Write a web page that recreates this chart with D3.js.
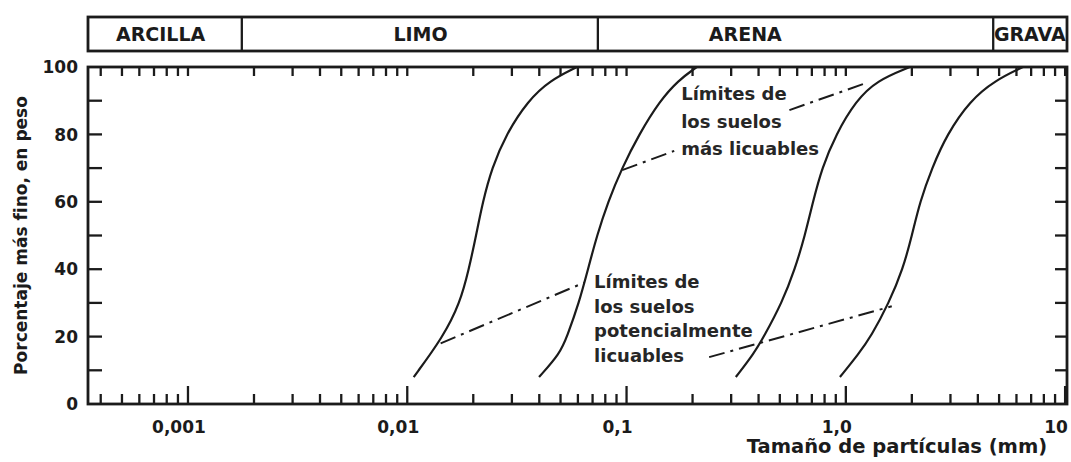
<!DOCTYPE html>
<html lang="es">
<head>
<meta charset="UTF-8">
<title>Límites granulométricos de suelos licuables</title>
<script src="https://cdn.jsdelivr.net/npm/d3@7"></script>
<style>
  body { margin: 0; background: #fff; }
  svg text { font-family: "DejaVu Sans", sans-serif; font-weight: bold; fill: #1b1b1b; }
  .curve { fill: none; stroke: #1b1b1b; stroke-width: 2.2px; }
  .dashdot { fill: none; stroke: #1b1b1b; stroke-width: 2px; stroke-dasharray: 16 6 3 6; }
  .frame { fill: none; stroke: #1b1b1b; stroke-width: 2.8px; }
  .tick { stroke: #1b1b1b; stroke-width: 2.3px; }
</style>
</head>
<body>
<svg width="1071" height="462"></svg>
<script>
// eje x: tamaño de partícula (mm), escala log
const xDomain = [0.00035, 10.2];
const xTickValues = [0.001, 0.01, 0.1, 1, 10];
const xTickLabels = ["0,001", "0,01", "0,1", "1,0", "10"];
const yTickValues = [0, 20, 40, 60, 80, 100];

// bandas de clasificación (mm)
const bandNames = ["ARCILLA", "LIMO", "ARENA", "GRAVA"];
const bandEdges = [0.00035, 0.00176, 0.074, 4.7, 10.2];
const bandLabelAt = [0.00075, 0.0115, 0.348, 6.9];

// curvas [diámetro mm, % más fino]
const curveMasLicuablesFino = [[0.0107, 8], [0.0146, 20], [0.0174, 30], [0.0191, 40], [0.0206, 50],
  [0.0221, 60], [0.0243, 70], [0.0282, 80], [0.0355, 90], [0.0447, 96], [0.0594, 100]];
const curveMasLicuablesGrueso = [[0.0399, 8], [0.0497, 15], [0.0535, 20], [0.0607, 30], [0.0667, 40], [0.0733, 50],
  [0.0823, 60], [0.0953, 70], [0.114, 80], [0.142, 90], [0.172, 96], [0.209, 100]];
const curvePotencialFino = [[0.315, 8], [0.381, 15], [0.423, 20], [0.511, 30], [0.586, 40], [0.651, 50],
  [0.708, 60], [0.778, 70], [0.901, 80], [1.112, 90], [1.386, 96], [1.960, 100]];
const curvePotencialGrueso = [[0.940, 8], [1.147, 15], [1.302, 20], [1.572, 30], [1.821, 40], [2.002, 50],
  [2.177, 60], [2.470, 70], [2.891, 80], [3.682, 90], [4.786, 96], [6.421, 100]];

// líneas de trazo y punto de las notas
const leaderMasLicuables = [[[0.0955, 69.4], [0.165, 75.1]], [[0.553, 87.2], [1.242, 95.3]]];
const leaderPotencial = [[[0.0142, 18], [0.0640, 36]], [[0.238, 13.9], [1.62, 29]]];

const notaMasLicuables = ["Límites de", "los suelos", "más licuables"];
const notaPotencial = ["Límites de", "los suelos", "potencialmente", "licuables"];
const notaMasAt = [0.1775, 90.2];
const notaPotAt = [0.0711, 34.4];

const svg = d3.select("svg");
const plotLeft = 88, plotRight = 1067, plotTop = 67, plotBottom = 404;
const x = d3.scaleLog().domain(xDomain).range([plotLeft, plotRight]);
const y = d3.scaleLinear().domain([0, 100]).range([plotBottom, plotTop]);

// banda superior
const bandTop = 17, bandBottom = 51;
const band = svg.append("g");
band.append("rect").attr("class", "frame")
  .attr("x", x(bandEdges[0])).attr("y", bandTop)
  .attr("width", x(bandEdges[bandEdges.length - 1]) - x(bandEdges[0]))
  .attr("height", bandBottom - bandTop);
band.selectAll(".div").data(bandEdges.slice(1, -1)).enter().append("line")
  .attr("class", "tick")
  .attr("x1", d => x(d)).attr("x2", d => x(d))
  .attr("y1", bandTop).attr("y2", bandBottom);
band.selectAll(".bl").data(bandNames).enter().append("text")
  .attr("x", (d, i) => x(bandLabelAt[i]))
  .attr("y", 41)
  .attr("text-anchor", "middle")
  .attr("font-size", 19)
  .text(d => d);

// marco
svg.append("rect").attr("class", "frame")
  .attr("x", plotLeft).attr("y", plotTop)
  .attr("width", plotRight - plotLeft).attr("height", plotBottom - plotTop);

// marcas del eje x (abajo y arriba)
const isMajor = d => Math.abs(Math.log10(d) - Math.round(Math.log10(d))) < 1e-6;
const xt = x.ticks();
svg.append("g").selectAll("line").data(xt).enter().append("line")
  .attr("class", "tick")
  .attr("x1", d => x(d)).attr("x2", d => x(d))
  .attr("y1", plotBottom).attr("y2", d => plotBottom - (isMajor(d) ? 18 : 10));
svg.append("g").selectAll("line").data(xt).enter().append("line")
  .attr("class", "tick")
  .attr("x1", d => x(d)).attr("x2", d => x(d))
  .attr("y1", plotTop).attr("y2", plotTop + 9);

// marcas del eje y
const yt = d3.range(10, 100, 10);
svg.append("g").selectAll("line").data(yt).enter().append("line")
  .attr("class", "tick")
  .attr("x1", plotLeft).attr("x2", plotLeft + 14)
  .attr("y1", d => y(d)).attr("y2", d => y(d));
svg.append("g").selectAll("line").data(yt).enter().append("line")
  .attr("class", "tick")
  .attr("x1", plotRight).attr("x2", plotRight - 12)
  .attr("y1", d => y(d)).attr("y2", d => y(d));

// etiquetas de ejes
svg.append("g").selectAll("text").data(xTickValues).enter().append("text")
  .attr("x", d => x(d) - 9)
  .attr("y", 433)
  .attr("text-anchor", "middle")
  .attr("font-size", 17)
  .text((d, i) => xTickLabels[i]);
svg.append("g").selectAll("text").data(yTickValues).enter().append("text")
  .attr("x", 78)
  .attr("y", d => y(d))
  .attr("dy", "0.36em")
  .attr("text-anchor", "end")
  .attr("font-size", 17)
  .text(d => d);

svg.append("text")
  .attr("transform", `translate(27,${(plotTop + plotBottom) / 2}) rotate(-90)`)
  .attr("text-anchor", "middle")
  .attr("font-size", 17)
  .text("Porcentaje más fino, en peso");
svg.append("text")
  .attr("x", 897).attr("y", 453)
  .attr("text-anchor", "middle")
  .attr("font-size", 19.5)
  .text("Tamaño de partículas (mm)");

// curvas
const line = d3.line().x(d => x(d[0])).y(d => y(d[1])).curve(d3.curveBasis);
svg.append("g").selectAll("path")
  .data([curveMasLicuablesFino, curveMasLicuablesGrueso, curvePotencialFino, curvePotencialGrueso])
  .enter().append("path")
  .attr("class", "curve")
  .attr("d", line);

const seg = d3.line().x(d => x(d[0])).y(d => y(d[1]));
svg.append("g").selectAll("path")
  .data(leaderMasLicuables.concat(leaderPotencial))
  .enter().append("path")
  .attr("class", "dashdot")
  .attr("d", seg);

// notas
function nota(lines, at, step) {
  const t = svg.append("text")
    .attr("x", x(at[0])).attr("y", y(at[1]))
    .attr("font-size", 18)
    .style("fill", "#262626");
  t.selectAll("tspan").data(lines).enter().append("tspan")
    .attr("x", x(at[0]))
    .attr("dy", (d, i) => i === 0 ? 0 : step)
    .text(d => d);
}
nota(notaMasLicuables, notaMasAt, 27.5);
nota(notaPotencial, notaPotAt, 24.7);
</script>
</body>
</html>
